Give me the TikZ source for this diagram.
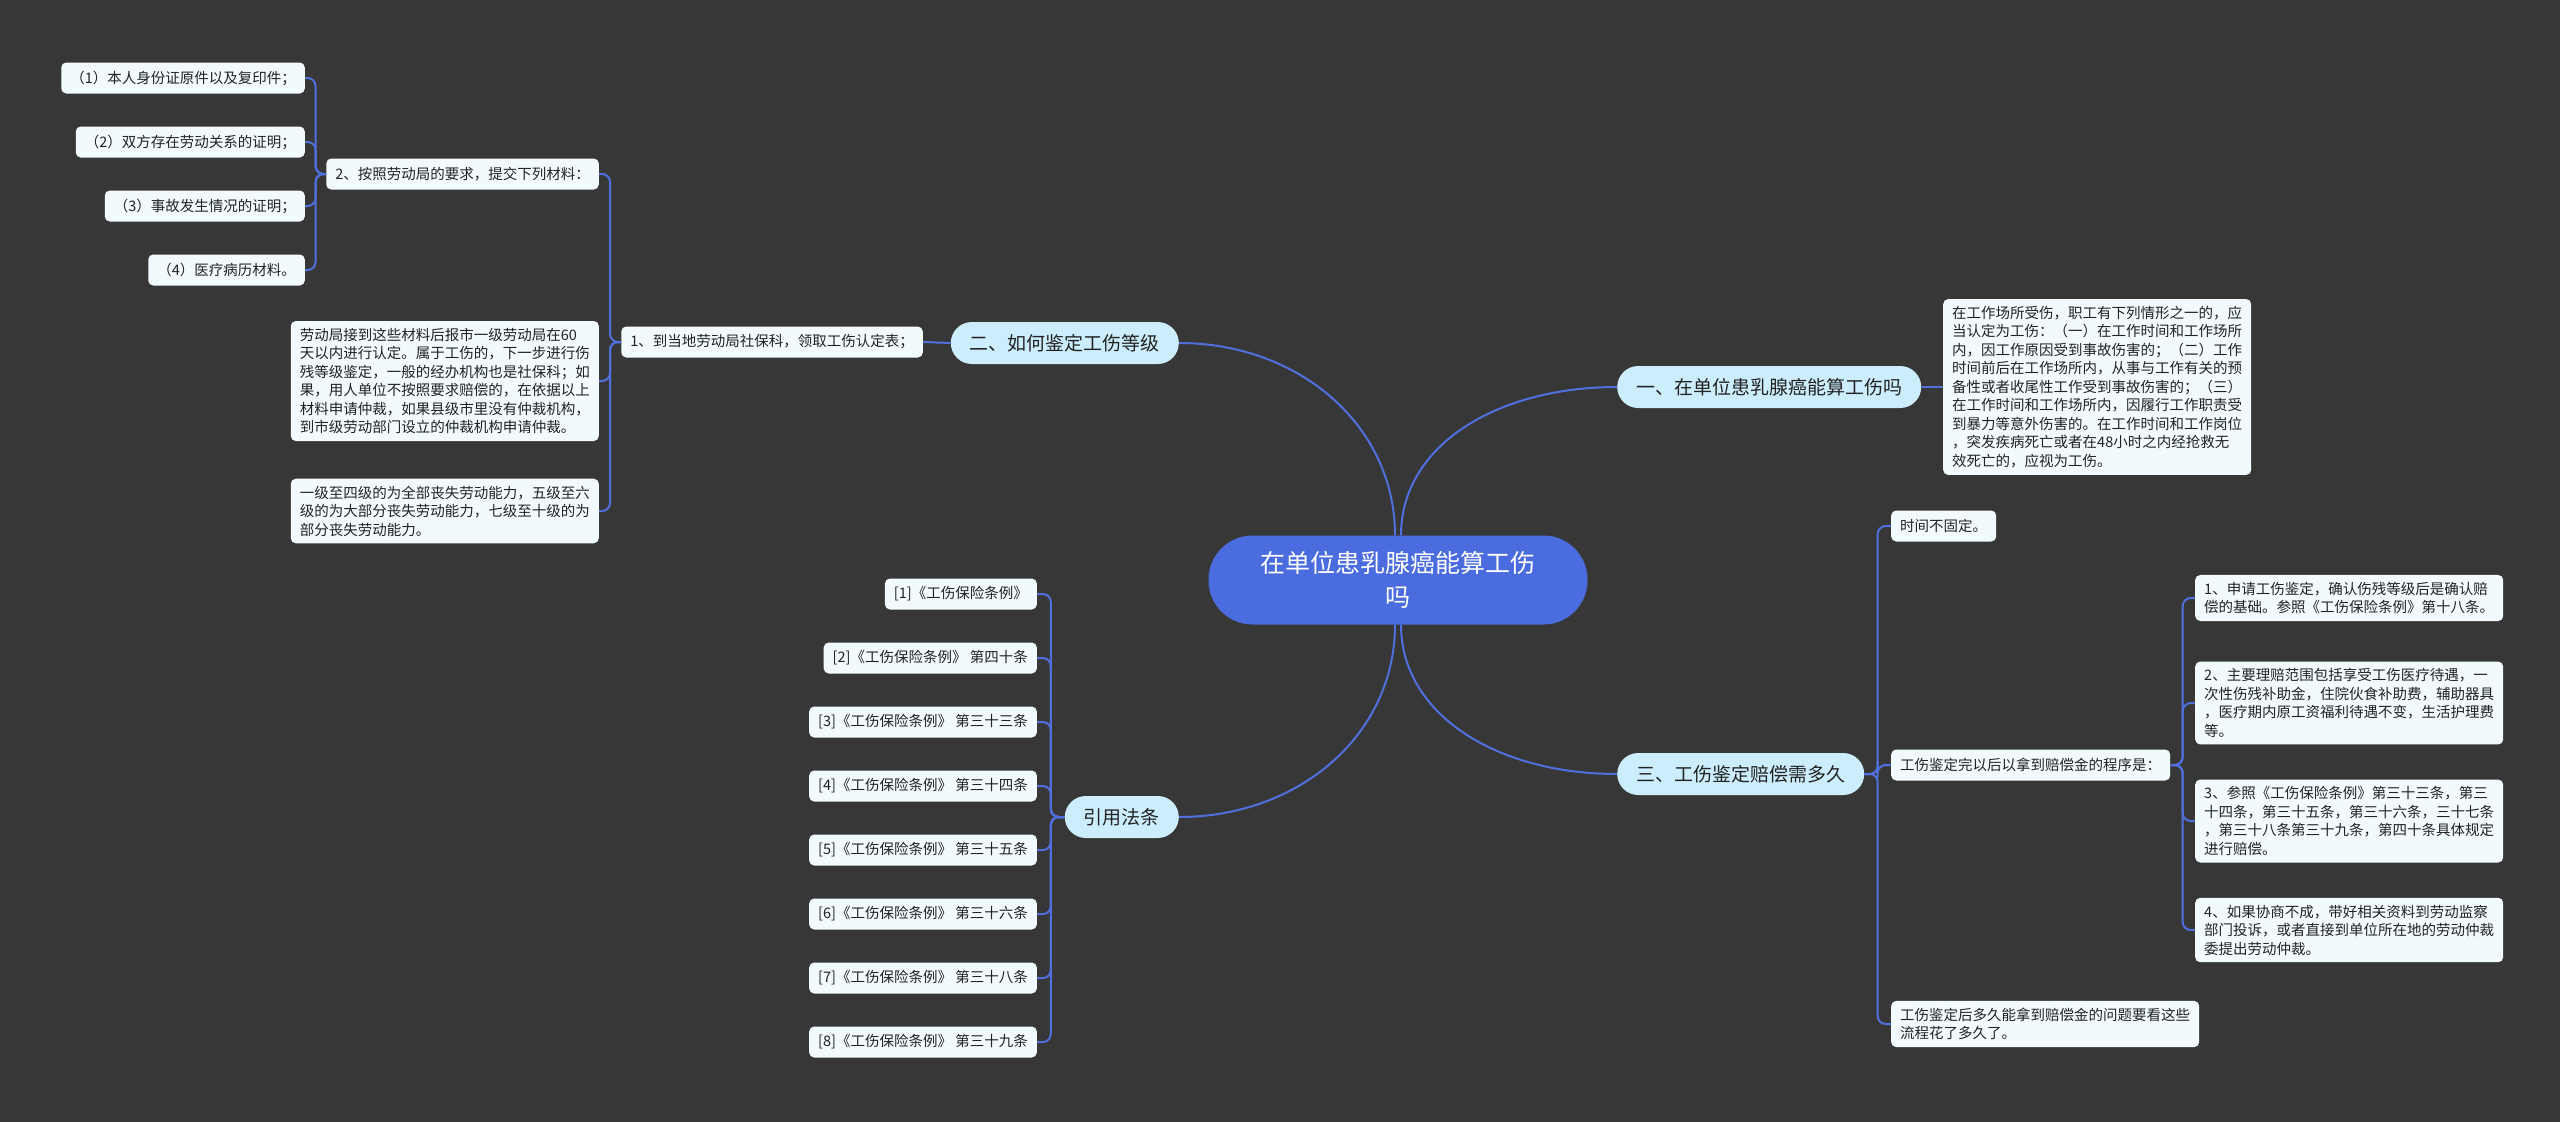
\documentclass[tikz,border=0pt]{standalone}
\usepackage{fontspec}
\setmainfont{Noto Sans CJK SC}
\usepackage{xcolor}
\usepackage{tikz}
\usetikzlibrary{calc}

\definecolor{bgdark}{RGB}{56,55,56}
\definecolor{rootblue}{RGB}{74,108,223}
\definecolor{branchblue}{RGB}{204,238,252}
\definecolor{leafwhite}{RGB}{241,251,254}
\definecolor{linkblue}{RGB}{80,112,222}
\definecolor{inkgray}{RGB}{34,34,34}

\begin{document}
\begin{tikzpicture}[
    x=1pt, y=-1pt,
    root node/.style={rectangle, fill=rootblue, text=white, rounded corners=44pt,
      minimum width=379pt, minimum height=89pt, align=center,
      font=\fontsize{25}{34}\selectfont},
    branch node/.style={rectangle, fill=branchblue, text=inkgray, rounded corners=21pt,
      minimum height=42pt, inner xsep=19pt, font=\fontsize{19}{23}\selectfont},
    leaf node/.style={rectangle, fill=leafwhite, text=inkgray, rounded corners=5pt,
      minimum height=31pt, inner xsep=9pt, inner ysep=7pt, align=left,
      font=\fontsize{14.5}{18.5}\selectfont},
    link/.style={draw=linkblue, line width=2pt, rounded corners=8pt},
    elbow/.style={to path={-| ($(\tikztostart)!.5!(\tikztotarget)$) |- (\tikztotarget)}},
  ]

  % Canvas
  \fill[bgdark] (0,0) rectangle (2560,1122);
  \useasboundingbox (0,0) rectangle (2560,1122);

  % Root
  \node[root node] (root) at (1398,580) {在单位患乳腺癌能算工伤\\吗};

  % Branches
  \node[branch node, anchor=west] (b1) at (1617,387) {一、在单位患乳腺癌能算工伤吗};
  \node[branch node, anchor=east] (b2) at (1179,343) {二、如何鉴定工伤等级};
  \node[branch node, anchor=west] (b3) at (1617,774) {三、工伤鉴定赔偿需多久};
  \node[branch node, anchor=east] (b4) at (1179,817) {引用法条};

  % Branch 1
  \node[leaf node, anchor=west] (b1a) at (1943,387) {在工作场所受伤，职工有下列情形之一的，应\\
    当认定为工伤：（一）在工作时间和工作场所\\
    内，因工作原因受到事故伤害的；（二）工作\\
    时间前后在工作场所内，从事与工作有关的预\\
    备性或者收尾性工作受到事故伤害的；（三）\\
    在工作时间和工作场所内，因履行工作职责受\\
    到暴力等意外伤害的。在工作时间和工作岗位\\
    ，突发疾病死亡或者在48小时之内经抢救无\\
    效死亡的，应视为工伤。};

  % Branch 2
  \node[leaf node, anchor=east] (b2a) at (923,342) {1、到当地劳动局社保科，领取工伤认定表；};
  \node[leaf node, anchor=east] (b2a1) at (599,174) {2、按照劳动局的要求，提交下列材料：};
  \node[leaf node, anchor=east] (b2a2) at (599,381) {劳动局接到这些材料后报市一级劳动局在60\\
    天以内进行认定。属于工伤的，下一步进行伤\\
    残等级鉴定，一般的经办机构也是社保科；如\\
    果，用人单位不按照要求赔偿的，在依据以上\\
    材料申请仲裁，如果县级市里没有仲裁机构，\\
    到市级劳动部门设立的仲裁机构申请仲裁。};
  \node[leaf node, anchor=east] (b2a3) at (599,511) {一级至四级的为全部丧失劳动能力，五级至六\\
    级的为大部分丧失劳动能力，七级至十级的为\\
    部分丧失劳动能力。};
  \node[leaf node, anchor=east] (m1) at (305,78)  {（1）本人身份证原件以及复印件；};
  \node[leaf node, anchor=east] (m2) at (305,142) {（2）双方存在劳动关系的证明；};
  \node[leaf node, anchor=east] (m3) at (305,206) {（3）事故发生情况的证明；};
  \node[leaf node, anchor=east] (m4) at (305,270) {（4）医疗病历材料。};

  % Branch 3
  \node[leaf node, anchor=west] (b3a) at (1891,526) {时间不固定。};
  \node[leaf node, anchor=west] (b3b) at (1891,765) {工伤鉴定完以后以拿到赔偿金的程序是：};
  \node[leaf node, anchor=west] (b3c) at (1891,1024) {工伤鉴定后多久能拿到赔偿金的问题要看这些\\
    流程花了多久了。};
  \node[leaf node, anchor=west] (s1) at (2195,598) {1、申请工伤鉴定，确认伤残等级后是确认赔\\
    偿的基础。参照《工伤保险条例》第十八条。};
  \node[leaf node, anchor=west] (s2) at (2195,703) {2、主要理赔范围包括享受工伤医疗待遇，一\\
    次性伤残补助金，住院伙食补助费，辅助器具\\
    ，医疗期内原工资福利待遇不变，生活护理费\\
    等。};
  \node[leaf node, anchor=west] (s3) at (2195,821) {3、参照《工伤保险条例》第三十三条，第三\\
    十四条，第三十五条，第三十六条，三十七条\\
    ，第三十八条第三十九条，第四十条具体规定\\
    进行赔偿。};
  \node[leaf node, anchor=west] (s4) at (2195,930) {4、如果协商不成，带好相关资料到劳动监察\\
    部门投诉，或者直接到单位所在地的劳动仲裁\\
    委提出劳动仲裁。};

  % Branch 4
  \node[leaf node, anchor=east] (law1) at (1037,594)  {[1]《工伤保险条例》};
  \node[leaf node, anchor=east] (law2) at (1037,658)  {[2]《工伤保险条例》 第四十条};
  \node[leaf node, anchor=east] (law3) at (1037,722)  {[3]《工伤保险条例》 第三十三条};
  \node[leaf node, anchor=east] (law4) at (1037,786)  {[4]《工伤保险条例》 第三十四条};
  \node[leaf node, anchor=east] (law5) at (1037,850)  {[5]《工伤保险条例》 第三十五条};
  \node[leaf node, anchor=east] (law6) at (1037,914)  {[6]《工伤保险条例》 第三十六条};
  \node[leaf node, anchor=east] (law7) at (1037,978)  {[7]《工伤保险条例》 第三十八条};
  \node[leaf node, anchor=east] (law8) at (1037,1042) {[8]《工伤保险条例》 第三十九条};

  % Edges from the root
  \draw[link] ([xshift=-3pt]root.north) .. controls +(0,-110) and +(120,0) .. (b2.east);
  \draw[link] ([xshift=3pt]root.north)  .. controls +(0,-90)  and +(-120,0) .. (b1.west);
  \draw[link] ([xshift=3pt]root.south)  .. controls +(0,90)   and +(-120,0) .. (b3.west);
  \draw[link] ([xshift=-3pt]root.south) .. controls +(0,110)  and +(120,0) .. (b4.east);

  % Edges in branch 1 and 2
  \draw[link] (b1.east) -- (b1a.west);
  \draw[link] (b2.west) -- (b2a.east);
  \draw[link] (b2a.west) to[elbow] (b2a1.east);
  \draw[link] (b2a.west) to[elbow] (b2a2.east);
  \draw[link] (b2a.west) to[elbow] (b2a3.east);
  \draw[link] (b2a1.west) to[elbow] (m1.east);
  \draw[link] (b2a1.west) to[elbow] (m2.east);
  \draw[link] (b2a1.west) to[elbow] (m3.east);
  \draw[link] (b2a1.west) to[elbow] (m4.east);

  % Edges in branch 3
  \draw[link] (b3.east) to[elbow] (b3a.west);
  \draw[link] (b3.east) to[elbow] (b3b.west);
  \draw[link] (b3.east) to[elbow] (b3c.west);
  \draw[link] (b3b.east) to[elbow] (s1.west);
  \draw[link] (b3b.east) to[elbow] (s2.west);
  \draw[link] (b3b.east) to[elbow] (s3.west);
  \draw[link] (b3b.east) to[elbow] (s4.west);

  % Edges in branch 4
  \draw[link] (b4.west) to[elbow] (law1.east);
  \draw[link] (b4.west) to[elbow] (law2.east);
  \draw[link] (b4.west) to[elbow] (law3.east);
  \draw[link] (b4.west) to[elbow] (law4.east);
  \draw[link] (b4.west) to[elbow] (law5.east);
  \draw[link] (b4.west) to[elbow] (law6.east);
  \draw[link] (b4.west) to[elbow] (law7.east);
  \draw[link] (b4.west) to[elbow] (law8.east);

\end{tikzpicture}
\end{document}
